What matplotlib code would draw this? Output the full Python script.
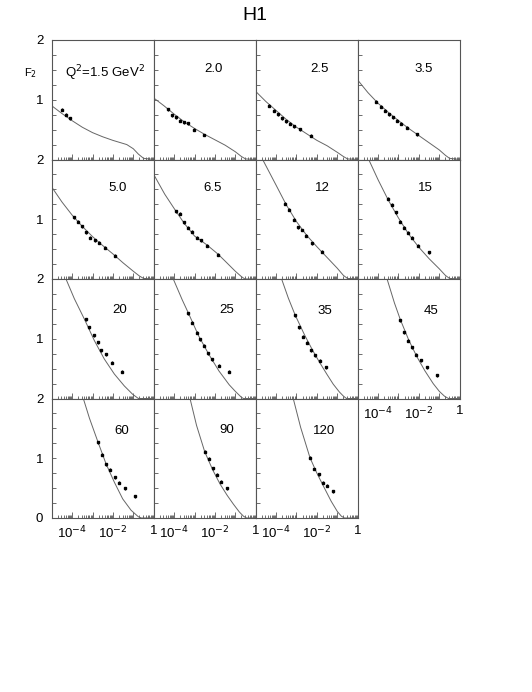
import numpy as np
import matplotlib
matplotlib.use("Agg")
import matplotlib.pyplot as plt
from matplotlib.ticker import FixedLocator, FuncFormatter

# Q^2 values (GeV^2), one per panel
q2_labels = ["Q$^2$=1.5 GeV$^2$", "2.0", "2.5", "3.5", "5.0", "6.5", "12", "15",
             "20", "25", "35", "45", "60", "90", "120"]

# measured points: log10(x) and F2
data_logx = [
    [-4.51, -4.31, -4.11],
    [-4.32, -4.11, -3.92, -3.72, -3.53, -3.34, -3.03, -2.51],
    [-4.33, -4.12, -3.91, -3.71, -3.52, -3.32, -3.13, -2.83, -2.31],
    [-4.09, -3.88, -3.68, -3.49, -3.29, -3.08, -2.87, -2.59, -2.07],
    [-3.90, -3.70, -3.51, -3.31, -3.11, -2.90, -2.70, -2.41, -1.89],
    [-3.91, -3.71, -3.50, -3.30, -3.10, -2.89, -2.70, -2.40, -1.86],
    [-3.55, -3.35, -3.14, -2.93, -2.75, -2.55, -2.25, -1.76],
    [-3.53, -3.33, -3.14, -2.91, -2.71, -2.52, -2.32, -2.03, -1.51],
    [-3.34, -3.15, -2.95, -2.75, -2.56, -2.36, -2.05, -1.54],
    [-3.30, -3.10, -2.89, -2.71, -2.52, -2.32, -2.12, -1.81, -1.32],
    [-3.07, -2.86, -2.67, -2.47, -2.27, -2.08, -1.86, -1.55],
    [-2.91, -2.71, -2.52, -2.32, -2.12, -1.91, -1.62, -1.09],
    [-2.72, -2.52, -2.33, -2.13, -1.92, -1.70, -1.41, -0.90],
    [-2.50, -2.30, -2.11, -1.90, -1.70, -1.39],
    [-2.32, -2.13, -1.91, -1.72, -1.52, -1.23],
]
data_f2 = [
    [0.83, 0.75, 0.69],
    [0.84, 0.74, 0.71, 0.65, 0.62, 0.61, 0.50, 0.41],
    [0.90, 0.82, 0.76, 0.69, 0.64, 0.60, 0.56, 0.51, 0.40],
    [0.97, 0.88, 0.82, 0.76, 0.71, 0.65, 0.60, 0.53, 0.42],
    [1.03, 0.96, 0.88, 0.78, 0.69, 0.65, 0.61, 0.52, 0.39],
    [1.13, 1.09, 0.95, 0.86, 0.79, 0.69, 0.65, 0.56, 0.41],
    [1.26, 1.16, 0.99, 0.87, 0.82, 0.72, 0.60, 0.46],
    [1.34, 1.24, 1.12, 0.96, 0.86, 0.77, 0.69, 0.56, 0.45],
    [1.33, 1.19, 1.06, 0.94, 0.81, 0.74, 0.60, 0.45],
    [1.43, 1.27, 1.10, 0.99, 0.88, 0.76, 0.66, 0.55, 0.45],
    [1.39, 1.19, 1.03, 0.93, 0.81, 0.72, 0.63, 0.52],
    [1.31, 1.11, 0.97, 0.86, 0.73, 0.64, 0.52, 0.39],
    [1.27, 1.06, 0.90, 0.81, 0.68, 0.59, 0.50, 0.36],
    [1.11, 0.99, 0.83, 0.72, 0.61, 0.50],
    [1.01, 0.82, 0.73, 0.59, 0.54, 0.45],
]

# fitted curve: log10(x) and F2
curve_logx = [
    [-5.0, -4.5, -4.0, -3.5, -3.0, -2.5, -2.0, -1.32, -1.0, -0.75, -0.5, 0.0],
    [-5.0, -4.5, -4.0, -3.5, -3.0, -2.5, -2.0, -1.5, -1.0, -0.7, -0.5, 0.0],
    [-5.0, -4.5, -4.0, -3.5, -3.0, -2.5, -2.0, -1.5, -1.0, -0.7, -0.5, 0.0],
    [-5.0, -4.5, -4.0, -3.5, -3.0, -2.5, -2.0, -1.5, -1.0, -0.7, -0.5, 0.0],
    [-5.0, -4.5, -4.0, -3.5, -3.0, -2.5, -2.0, -1.5, -1.0, -0.7, -0.5, 0.0],
    [-5.0, -4.46, -3.92, -3.5, -3.0, -2.39, -1.86, -1.5, -1.0, -0.7, -0.53, 0.0],
    [-4.66, -4.0, -3.5, -3.0, -2.5, -2.0, -1.5, -1.0, -0.7, -0.5, 0.0],
    [-4.46, -4.0, -3.5, -3.0, -2.5, -2.0, -1.5, -1.0, -0.7, -0.5, 0.0],
    [-4.30, -3.89, -3.40, -2.91, -2.42, -1.93, -1.44, -1.03, -0.75, 0.0],
    [-4.04, -3.6, -3.3, -2.8, -2.3, -1.8, -1.3, -1.0, -0.7, -0.6, 0.0],
    [-3.73, -3.4, -3.07, -2.6, -2.2, -1.86, -1.5, -1.2, -0.9, -0.7, -0.55, 0.0],
    [-3.56, -3.2, -2.91, -2.5, -2.1, -1.7, -1.3, -1.0, -0.75, -0.55, 0.0],
    [-3.45, -3.15, -2.74, -2.34, -1.93, -1.52, -1.11, -0.75, -0.6, 0.0],
    [-3.22, -2.9, -2.5, -2.1, -1.75, -1.4, -1.09, -0.8, -0.6, -0.45, 0.0],
    [-3.16, -2.8, -2.34, -2.0, -1.6, -1.3, -1.0, -0.8, -0.65, 0.0],
]
curve_f2 = [
    [0.90, 0.77, 0.65, 0.54, 0.45, 0.38, 0.32, 0.25, 0.18, 0.09, 0.02, 0.0],
    [1.03, 0.90, 0.76, 0.63, 0.52, 0.42, 0.33, 0.24, 0.13, 0.05, 0.01, 0.0],
    [1.14, 0.97, 0.82, 0.67, 0.54, 0.43, 0.32, 0.23, 0.12, 0.05, 0.01, 0.0],
    [1.33, 1.12, 0.94, 0.79, 0.65, 0.52, 0.40, 0.28, 0.16, 0.07, 0.02, 0.0],
    [1.54, 1.29, 1.07, 0.88, 0.71, 0.56, 0.42, 0.27, 0.13, 0.05, 0.01, 0.0],
    [1.75, 1.42, 1.14, 0.93, 0.72, 0.57, 0.42, 0.30, 0.13, 0.04, 0.0, 0.0],
    [2.0, 1.57, 1.24, 0.96, 0.73, 0.54, 0.36, 0.18, 0.06, 0.01, 0.0],
    [2.0, 1.66, 1.32, 1.02, 0.75, 0.53, 0.34, 0.17, 0.06, 0.01, 0.0],
    [2.0, 1.67, 1.33, 0.97, 0.66, 0.41, 0.21, 0.07, 0.0, 0.0],
    [2.0, 1.65, 1.43, 1.05, 0.74, 0.46, 0.23, 0.12, 0.02, 0.0, 0.0],
    [2.0, 1.68, 1.40, 1.06, 0.80, 0.60, 0.40, 0.24, 0.11, 0.04, 0.0, 0.0],
    [2.0, 1.60, 1.32, 0.98, 0.70, 0.46, 0.25, 0.12, 0.04, 0.0, 0.0],
    [2.0, 1.67, 1.28, 0.91, 0.60, 0.32, 0.13, 0.02, 0.0, 0.0],
    [2.0, 1.55, 1.11, 0.80, 0.57, 0.38, 0.23, 0.10, 0.03, 0.0, 0.0],
    [2.0, 1.52, 1.01, 0.75, 0.48, 0.28, 0.11, 0.03, 0.0, 0.0],
]

# label placement inside each panel (axes fraction)
label_pos = [(0.52, 0.72), (0.59, 0.76), (0.63, 0.76), (0.65, 0.76),
             (0.65, 0.76), (0.58, 0.76), (0.65, 0.76), (0.66, 0.76),
             (0.67, 0.74), (0.72, 0.74), (0.68, 0.73), (0.72, 0.73),
             (0.69, 0.73), (0.72, 0.74), (0.67, 0.73)]

W, H = 532, 692
fig = plt.figure(figsize=(W / 100, H / 100), dpi=100)
plt.rcParams['font.family'] = ['Liberation Sans', 'DejaVu Sans']

left, top, pw, ph = 51.7, 40.0, 102.0, 119.5
frame_col = "#555555"


def xfmt(v, pos):
    lv = int(round(np.log10(v)))
    if lv == 0:
        return "1"
    if lv in (-4, -2):
        return "10$^{%d}$" % lv
    return ""


for i in range(15):
    r, c = divmod(i, 4)
    x0 = (left + c * pw) / W
    y0 = 1 - (top + (r + 1) * ph) / H
    ax = fig.add_axes([x0, y0, pw / W, ph / H])
    ax.set_xscale("log")
    ax.set_xlim(1e-5, 1)
    ax.set_ylim(0, 2)

    ax.plot(10.0 ** np.array(curve_logx[i]), curve_f2[i], color="#666666", lw=0.7)
    ax.errorbar(10.0 ** np.array(data_logx[i]), data_f2[i], yerr=0.025, fmt="s",
                color="black", ms=1.8, elinewidth=0.9, capsize=0)

    ax.text(label_pos[i][0], label_pos[i][1], q2_labels[i], transform=ax.transAxes,
            ha="center", va="center", fontsize=9.5)

    for s in ax.spines.values():
        s.set_color(frame_col)
        s.set_linewidth(0.8)

    ax.xaxis.set_major_locator(FixedLocator([10.0 ** k for k in range(-5, 1)]))
    ax.xaxis.set_minor_locator(FixedLocator(
        [m * 10.0 ** k for k in range(-5, 0) for m in range(2, 10)]))
    ax.yaxis.set_major_locator(FixedLocator([0, 1, 2]))
    ax.yaxis.set_minor_locator(FixedLocator([0.25, 0.5, 0.75, 1.25, 1.5, 1.75]))
    ax.tick_params(which="both", direction="in", color=frame_col, width=0.6,
                   top=False, right=False, labelsize=9.5)
    ax.tick_params(which="major", length=4)
    ax.tick_params(which="minor", length=2)
    ax.tick_params(axis="y", which="both", length=3)
    ax.tick_params(axis="x", pad=5)

    if r == 3 or i == 11:
        ax.xaxis.set_major_formatter(FuncFormatter(xfmt))
    else:
        ax.set_xticklabels([])
    ax.xaxis.set_minor_formatter(FuncFormatter(lambda v, p: ""))

    if c == 0:
        if r == 3:
            ax.set_yticklabels(["0", "1", "2"])
        else:
            ax.set_yticklabels(["", "1", "2"])
        ax.tick_params(axis="y", pad=6)
    else:
        ax.set_yticklabels([])

fig.text(255 / W, 1 - 15 / H, "H1", ha="center", va="center", fontsize=14)
fig.text(31 / W, 1 - 73 / H, "F$_2$", ha="center", va="center", fontsize=8)

fig.savefig("out.png", dpi=100)
